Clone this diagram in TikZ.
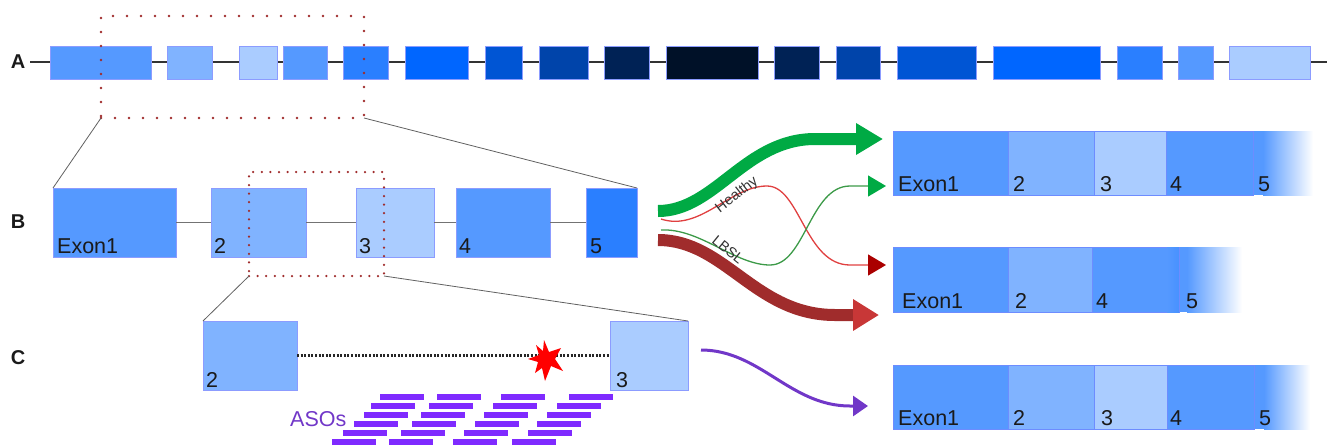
\documentclass[tikz,border=0pt]{standalone}
\usepackage{fontspec}
\setmainfont{Liberation Sans}
\usetikzlibrary{arrows.meta}
\definecolor{ca}{HTML}{5599FF}
\definecolor{cb}{HTML}{80B3FF}
\definecolor{cc}{HTML}{AACCFF}
\definecolor{cd}{HTML}{2A7FFF}
\definecolor{ce}{HTML}{0066FF}
\definecolor{cf}{HTML}{0055D4}
\definecolor{cg}{HTML}{0044AA}
\definecolor{ch}{HTML}{002255}
\definecolor{ci}{HTML}{001128}
\definecolor{exonline}{HTML}{8C9CFF}
\definecolor{segline}{HTML}{6D8CFF}
\definecolor{zoomred}{HTML}{A02C2C}
\definecolor{greenA}{HTML}{00AA44}
\definecolor{redshaft}{HTML}{A02C2C}
\definecolor{redhead}{HTML}{C83737}
\definecolor{thinred}{HTML}{E04040}
\definecolor{thinredhead}{HTML}{AA0000}
\definecolor{thingreen}{HTML}{3C9A48}
\definecolor{purpA}{HTML}{7137C8}
\definecolor{asocol}{HTML}{7F2AFF}
\definecolor{txt}{HTML}{1A1A1A}
\newcommand{\ebox}[7][exon]{%
  \pgfmathsetmacro{\bw}{#5-#3}\pgfmathsetmacro{\bh}{#6-#4}%
  \pgfmathsetmacro{\bx}{(#3+#5)/2}\pgfmathsetmacro{\by}{(#4+#6)/2}%
  \node[#1, fill=#7, minimum width=\bw pt, minimum height=\bh pt] (#2) at (\bx,\by) {};}
\newcommand{\elbl}[5]{\node[lbl] (#1) at ([xshift=#3pt,yshift=#4pt]#2.south west) {#5};}
\begin{document}
\begin{tikzpicture}[x=1pt,y=-1pt,
  exon/.style={draw=exonline, line width=0.8pt, inner sep=0pt, outer sep=0pt, rectangle},
  seg/.style={draw=segline, line width=0.6pt, inner sep=0pt, outer sep=0pt, rectangle},
  segfill/.style={inner sep=0pt, outer sep=0pt, rectangle},
  lbl/.style={inner sep=0pt, font=\fontsize{21.5}{24}\selectfont, text=txt, anchor=base west},
  rowlbl/.style={font=\bfseries\fontsize{20}{24}\selectfont, inner sep=0pt, text=txt},
  zoomA/.style={draw=zoomred, line width=2.8pt, line cap=round, dash pattern=on 0pt off 14pt, inner sep=0pt, outer sep=0pt, rectangle},
  zoomB/.style={draw=zoomred, line width=2.5pt, line cap=round, dash pattern=on 0pt off 8.6pt, inner sep=0pt, outer sep=0pt, rectangle},
  guide/.style={draw=gray!75!black, line width=0.8pt},
  aline/.style={draw=black!80, line width=2pt},
  bline/.style={draw=black!55, line width=1.5pt},
  cline/.style={draw=black!85, line width=2.4pt, dash pattern=on 2pt off 1.6pt},
  thickg/.style={draw=greenA, line width=12pt, -{Triangle[length=27pt,width=30pt,color=greenA]}},
  thickr/.style={draw=redshaft, line width=12pt, -{Triangle[length=26pt,width=30pt,color=redhead]}},
  thinr/.style={draw=thinred, line width=1.3pt, -{Triangle[length=18pt,width=21pt,color=thinredhead]}},
  thing/.style={draw=thingreen, line width=1.3pt, -{Triangle[length=18pt,width=21pt,color=greenA]}},
  purparrow/.style={draw=purpA, line width=3pt, -{Triangle[length=15pt,width=20pt,color=purpA]}},
  aso/.style={fill=asocol},
  ftext/.style={font=\fontsize{14.5}{16}\selectfont, text=black!80, inner sep=0pt}
]
\useasboundingbox (0,0) rectangle (1327,445);

% ---------- Row A ----------
\node[rowlbl] (labA) at (18,62) {A};
\coordinate (astart) at (30,62);
\coordinate (aend) at (1327,62);
\draw[aline] (astart) -- (aend);
\foreach \i/\xa/\xb/\c in {1/50/151/ca, 2/167/212/cb, 3/239/277/cc, 4/283/327/ca, 5/343/388/cd,
  6/405/468/ce, 7/485/522/cf, 8/539/588/cg, 9/604/649/ch, 10/666/758/ci, 11/774/819/ch,
  12/836/880/cg, 13/897/976/cf, 14/993/1100/ce, 15/1117/1162/cd, 16/1178/1213/ca, 17/1229/1310/cc}
  {\ebox{a\i}{\xa}{46}{\xb}{79}{\c}}
\ebox[zoomA]{za}{101}{16}{364}{118}{none}

% ---------- Row B ----------
\node[rowlbl] (labB) at (18,222) {B};
\ebox{b1}{53}{188}{176}{257}{ca}
\ebox{b2}{211}{188}{306}{257}{cb}
\ebox{b3}{356}{188}{434}{257}{cc}
\ebox{b4}{456}{188}{550}{257}{ca}
\ebox{b5}{586}{188}{637}{257}{cd}
\draw[bline] (b1.east) -- (b2.west);
\draw[bline] (b2.east) -- (b3.west);
\draw[bline] (b3.east) -- (b4.west);
\draw[bline] (b4.east) -- (b5.west);
\elbl{lb1}{b1}{4}{4}{Exon1}
\elbl{lb2}{b2}{3}{4}{2}
\elbl{lb3}{b3}{3}{4}{3}
\elbl{lb4}{b4}{3}{4}{4}
\elbl{lb5}{b5}{4}{4}{5}
\draw[guide] (za.south west) -- (b1.north west);
\draw[guide] (za.south east) -- (b5.north east);
\ebox[zoomB]{zb}{249}{172}{384}{276}{none}

% ---------- Row C ----------
\node[rowlbl] (labC) at (18,358) {C};
\ebox{c2}{203}{321}{297}{390}{cb}
\ebox{c3}{610}{321}{688}{390}{cc}
\draw[guide] (zb.south west) -- (c2.north west);
\draw[guide] (zb.south east) -- (c3.north east);
\elbl{lc2}{c2}{3}{3}{2}
\elbl{lc3}{c3}{6}{3}{3}
\draw[cline] (c2.east) -- (c3.west);
\fill[red] (544,340) -- (549,352) -- (561,348) -- (555,359) -- (563,371) -- (551,366)
  -- (545,381) -- (542,368) -- (535,373) -- (538,362) -- (528,359) -- (539,355)
  -- (536,345) -- (543,351) -- cycle;
\foreach \y/\a/\b/\c/\d in {397/380/437/501/569, 406/371/429/493/557, 414.5/364/421/484/547,
  423.5/354/412/475/537, 432.5/343/401/464/528, 441.5/332/389/453/512}
  {\foreach \x in {\a,\b,\c,\d} {\fill[aso] (\x,\y-3) rectangle (\x+44,\y+3);}}
\node[lbl, text=purpA, anchor=base west] (asos) at (290,426) {ASOs};

% ---------- right: healthy mRNA ----------
\ebox[seg]{h1}{893}{131}{1008}{195}{ca}
\ebox[seg]{h2}{1008}{131}{1094}{195}{cb}
\ebox[seg]{h3}{1094}{131}{1166}{195}{cc}
\ebox[seg]{h4}{1166}{131}{1253}{195}{ca}
\ebox[segfill]{h5}{1253}{131}{1313}{195}{ca}
\shade[left color=ca, right color=white] ([xshift=10pt]h5.north west) rectangle (h5.south east);
\draw[segline, line width=0.8pt] (h5.north west) -- (h5.south west);
\elbl{lh1}{h1}{5}{4}{Exon1}
\elbl{lh2}{h2}{5}{4}{2}
\elbl{lh3}{h3}{6}{4}{3}
\elbl{lh4}{h4}{4}{4}{4}
\elbl{lh5}{h5}{5}{4}{5}

% ---------- right: LBSL mRNA ----------
\ebox[seg]{l1}{893}{247}{1008}{312}{ca}
\ebox[seg]{l2}{1008}{247}{1092}{312}{cb}
\ebox[seg]{l4}{1092}{247}{1179}{312}{ca}
\shade[left color=ca, right color=cd!30!ca] ([xshift=-12pt]l4.north east) rectangle (l4.south east);
\ebox[segfill]{l5}{1179}{247}{1242}{312}{ca}
\shade[left color=ca, right color=white] ([xshift=8pt]l5.north west) rectangle (l5.south east);
\draw[segline, line width=0.8pt] (l5.north west) -- (l5.south west);
\elbl{ll1}{l1}{9}{4}{Exon1}
\elbl{ll2}{l2}{7}{4}{2}
\elbl{ll4}{l4}{4}{4}{4}
\elbl{ll5}{l5}{7}{4}{5}

% ---------- right: ASO-treated mRNA ----------
\ebox[seg]{t1}{893}{365}{1008}{429}{ca}
\ebox[seg]{t2}{1008}{365}{1094}{429}{cb}
\ebox[seg]{t3}{1094}{365}{1167}{429}{cc}
\ebox[seg]{t4}{1167}{365}{1254}{429}{ca}
\ebox[segfill]{t5}{1254}{365}{1310}{429}{ca}
\shade[left color=ca, right color=white] ([xshift=10pt]t5.north west) rectangle (t5.south east);
\draw[segline, line width=0.8pt] (t5.north west) -- (t5.south west);
\elbl{lt1}{t1}{5}{4}{Exon1}
\elbl{lt2}{t2}{5}{4}{2}
\elbl{lt3}{t3}{7}{4}{3}
\elbl{lt4}{t4}{3}{4}{4}
\elbl{lt5}{t5}{5}{4}{5}

% ---------- arrows ----------
\coordinate (gs) at (658,211);
\coordinate (ge) at (883,139);
\coordinate (rs) at (658,240);
\coordinate (re) at (879,315);
\coordinate (trs) at (661,219);
\coordinate (tre) at (886,265);
\coordinate (tgs) at (661,230);
\coordinate (tge) at (886,186);
\coordinate (ps) at (701,350);
\coordinate (pe) at (868,406);
\draw[thickg] (gs) .. controls (715,211) and (745,139) .. (815,139) -- (ge);
\draw[thickr] (rs) .. controls (725,240) and (755,315) .. (835,315) -- (re);
\draw[thinr] (trs) .. controls (700,232) and (730,186) .. (767,186)
  .. controls (800,186) and (805,265) .. (850,265) -- (tre);
\draw[thing] (tgs) .. controls (700,228) and (735,265) .. (770,265)
  .. controls (805,265) and (810,186) .. (850,186) -- (tge);
\draw[purparrow] (ps) .. controls (760,350) and (790,406) .. (850,406) -- (pe);
\node[ftext, rotate=38] (healthy) at (737,195) {Healthy};
\node[ftext, rotate=-39] (lbsl) at (728,250) {LBSL};
\end{tikzpicture}
\end{document}
